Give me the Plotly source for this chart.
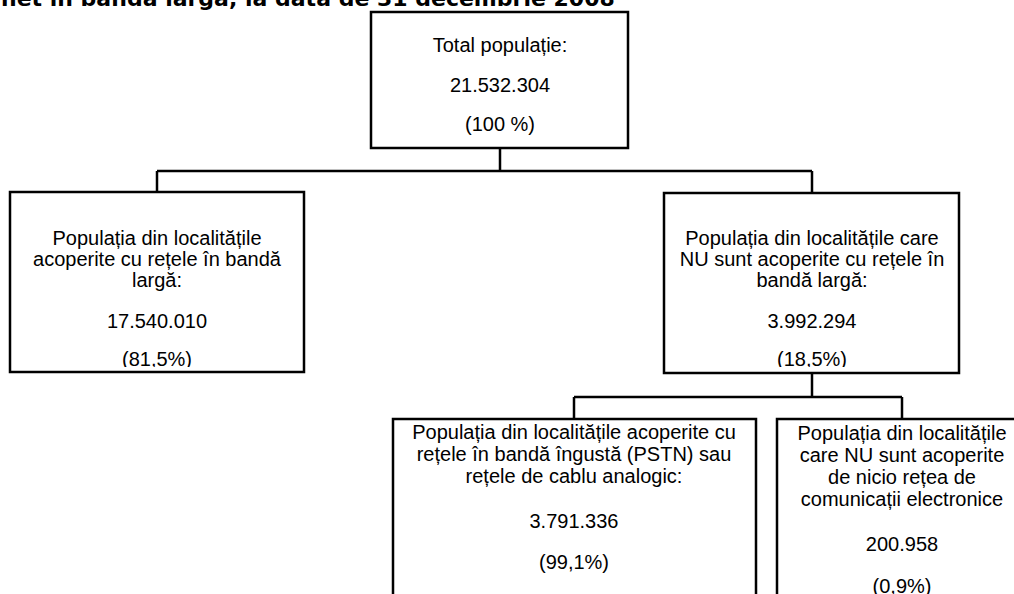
import plotly.graph_objects as go

# ---------------- data ----------------
title_text = "net în bandă largă, la data de 31 decembrie 2008"

node_ids = ["total", "broadband", "no_broadband", "narrowband", "none"]
node_labels = [
    ["Total populație:"],
    ["Populația din localitățile", "acoperite cu rețele în bandă", "largă:"],
    ["Populația din localitățile care", "NU sunt acoperite cu rețele în", "bandă largă:"],
    ["Populația din localitățile acoperite cu", "rețele în bandă îngustă (PSTN) sau", "rețele de cablu analogic:"],
    ["Populația din localitățile", "care NU sunt acoperite", "de nicio rețea de", "comunicații electronice"],
]
node_values = [21532304, 17540010, 3992294, 3791336, 200958]
node_percents = ["(100 %)", "(81,5%)", "(18,5%)", "(99,1%)", "(0,9%)"]
node_parents = [None, "total", "total", "no_broadband", "no_broadband"]

# ---------------- layout (pixel geometry) ----------------
W, H = 1014, 594
# box: x0, x1, y0, y1 (y grows downward)
boxes = {
    "total": (371, 628, 12, 148),
    "broadband": (10, 304, 192, 372),
    "no_broadband": (664, 959, 193, 373),
    "narrowband": (393, 756, 419, 620),
    "none": (777, 1030, 419, 620),
}
centres = {"total": 500, "broadband": 157, "no_broadband": 812, "narrowband": 574, "none": 902}
# y of the horizontal connector below each parent
bus_y = {"total": 171, "no_broadband": 397}
# text line y centres per node
line_y = {
    "total": [47, 87, 126],
    "broadband": [240, 261, 282, 323, 361],
    "no_broadband": [240, 261, 282, 323, 361],
    "narrowband": [434, 456, 478, 523, 564],
    "none": [435, 457, 479, 501, 546, 588],
}
# white strips clipping the lowest text line (as in the source)
clip_strips = [(12, 302, 367, 371), (666, 957, 367, 372)]

LINE_W = 2.5
FONT = "Liberation Sans, Arial, sans-serif"


def fmt(v):
    return f"{v:,}".replace(",", ".")


fig = go.Figure()

# text of each node
for nid, labels, val, pct in zip(node_ids, node_labels, node_values, node_percents):
    cx = centres[nid]
    lines = labels + [fmt(val), pct]
    ys = line_y[nid]
    fig.add_trace(go.Scatter(
        x=[cx] * len(lines), y=ys[:len(lines)], mode="text", text=lines,
        textposition="middle center",
        textfont=dict(family=FONT, size=20, color="#000000"),
        hoverinfo="skip", showlegend=False,
    ))

# title (cut at the top as in the source)
fig.add_trace(go.Scatter(
    x=[1], y=[0.5], mode="text", text=[title_text], textposition="middle right",
    textfont=dict(family="DejaVu Sans, Verdana, sans-serif", size=22, color="#000000", weight="bold"),
    hoverinfo="skip", showlegend=False,
))

shapes = []
for (a, b, c, d) in clip_strips:
    shapes.append(dict(type="rect", x0=a, x1=b, y0=c, y1=d, xref="x", yref="y",
                       fillcolor="white", line=dict(width=0), layer="above"))

line_style = dict(color="#000000", width=LINE_W)
for nid in node_ids:
    x0, x1, y0, y1 = boxes[nid]
    shapes.append(dict(type="rect", x0=x0, x1=x1, y0=y0, y1=y1, xref="x", yref="y",
                       line=line_style, fillcolor="rgba(0,0,0,0)", layer="above"))

for parent in ["total", "no_broadband"]:
    children = [n for n, p in zip(node_ids, node_parents) if p == parent]
    px = centres[parent]
    py = boxes[parent][3]
    by = bus_y[parent]
    shapes.append(dict(type="line", x0=px, x1=px, y0=py, y1=by, xref="x", yref="y",
                       line=line_style, layer="above"))
    cxs = [centres[c] for c in children]
    shapes.append(dict(type="line", x0=min(cxs), x1=max(cxs), y0=by, y1=by, xref="x", yref="y",
                       line=line_style, layer="above"))
    for c, cx in zip(children, cxs):
        shapes.append(dict(type="line", x0=cx, x1=cx, y0=by, y1=boxes[c][2], xref="x", yref="y",
                           line=line_style, layer="above"))

fig.update_layout(
    width=W, height=H, autosize=False,
    margin=dict(l=0, r=0, t=0, b=0, pad=0),
    paper_bgcolor="white", plot_bgcolor="white",
    xaxis=dict(range=[0, W], visible=False, fixedrange=True),
    yaxis=dict(range=[H, 0], visible=False, fixedrange=True),
    shapes=shapes,
    showlegend=False,
)

fig.write_html(
    "out.html",
    config={"displayModeBar": False},
    post_script="document.body.style.margin='0';document.body.style.overflow='hidden';",
)
